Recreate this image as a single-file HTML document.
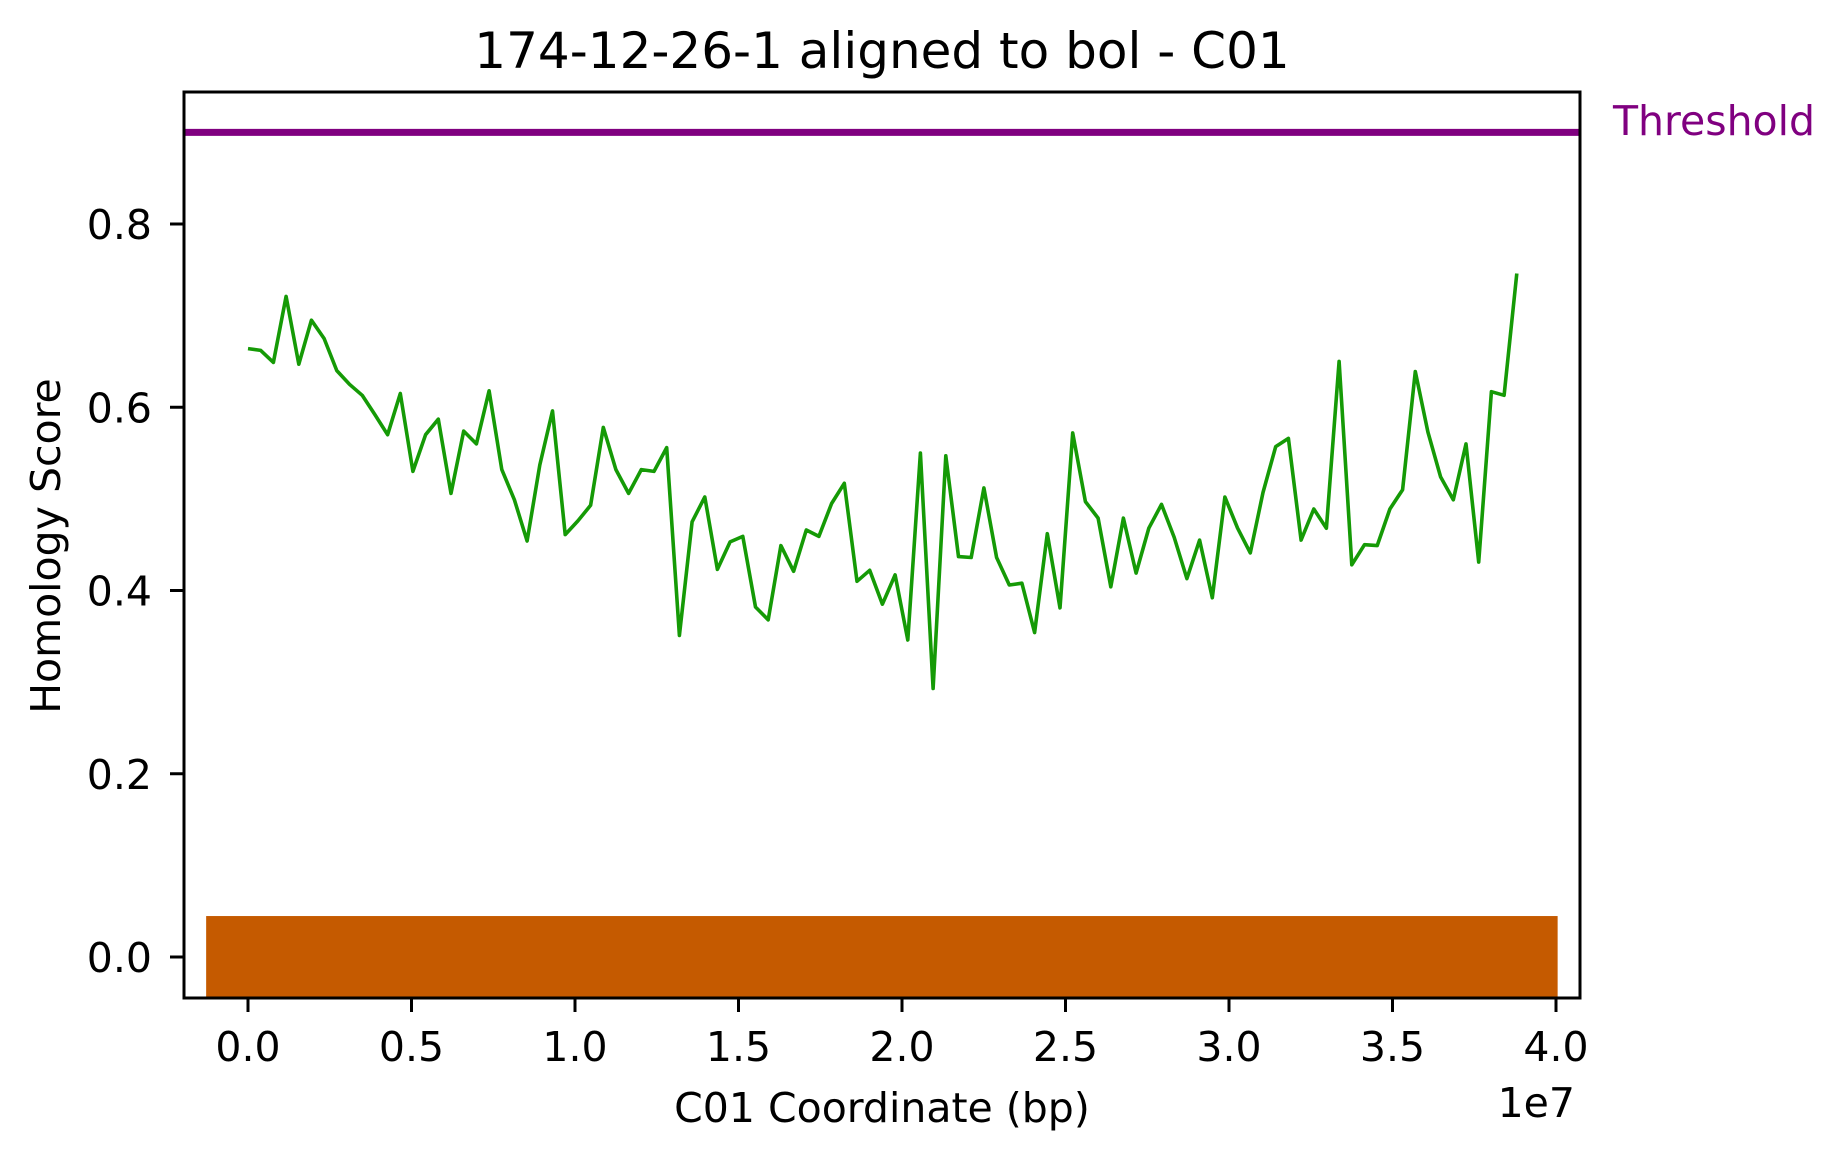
<!DOCTYPE html>
<html><head><meta charset="utf-8"><style>
html,body{margin:0;padding:0;background:#fff;}
svg{display:block;font-family:"DejaVu Sans","Liberation Sans",sans-serif;}
</style></head><body>
<svg id="chart" width="1847" height="1158" viewBox="0 0 1847 1158">
<rect x="0" y="0" width="1847" height="1158" fill="#fff"/>
<text x="882" y="68" font-size="50" text-anchor="middle" fill="#000">174-12-26-1 aligned to bol - C01</text>
<g id="plot"></g>
<text x="882" y="1122" font-size="41" text-anchor="middle" fill="#000">C01 Coordinate (bp)</text>
<text x="1575" y="1117" font-size="41" text-anchor="end" fill="#000">1e7</text>
<text transform="translate(60,546) rotate(-90)" font-size="41" text-anchor="middle" fill="#000">Homology Score</text>
<text x="1613" y="135" font-size="41" fill="#800080">Threshold</text>
</svg>
<script>
const scores = [0.664,0.662,0.649,0.721,0.647,0.695,0.675,0.640,0.625,0.613,0.592,0.570,0.615,0.530,0.570,0.587,0.506,0.574,0.560,0.618,0.532,0.499,0.454,0.537,0.596,0.461,0.476,0.493,0.578,0.532,0.506,0.532,0.530,0.556,0.351,0.475,0.502,0.423,0.453,0.459,0.382,0.368,0.449,0.421,0.466,0.459,0.495,0.517,0.410,0.422,0.385,0.417,0.346,0.550,0.293,0.547,0.437,0.436,0.512,0.436,0.406,0.408,0.354,0.462,0.381,0.572,0.497,0.479,0.404,0.479,0.419,0.468,0.494,0.458,0.413,0.455,0.392,0.502,0.468,0.441,0.507,0.557,0.566,0.455,0.489,0.468,0.650,0.428,0.450,0.449,0.489,0.510,0.639,0.573,0.524,0.499,0.560,0.431,0.617,0.613,0.746];
const binStart = 0;
const binSize = 388000;
const xTicks = [0,0.5,1.0,1.5,2.0,2.5,3.0,3.5,4.0];
const xTickLabels = ["0.0","0.5","1.0","1.5","2.0","2.5","3.0","3.5","4.0"];
const yTicks = [0.0,0.2,0.4,0.6,0.8];
const yTickLabels = ["0.0","0.2","0.4","0.6","0.8"];
const threshold = [0.9];
const blockStart = [-1280000];
const blockEnd = [40050000];
const blockHalfHeight = [0.0447];

const NS="http://www.w3.org/2000/svg";
const L=184,R=1580,T=92,B=998;
const xs=v=>248+(v/1e7)*327;
const ys=v=>957-v*916.25;
const g=document.getElementById('plot');
function mk(tag,attrs){const e=document.createElementNS(NS,tag);for(const k in attrs)e.setAttribute(k,attrs[k]);g.appendChild(e);return e;}

const bar=mk('rect',{x:xs(blockStart[0]),y:ys(blockHalfHeight[0]),width:xs(blockEnd[0])-xs(blockStart[0]),height:ys(-blockHalfHeight[0])-ys(blockHalfHeight[0]),fill:'#c55a00'});



const th=mk('line',{x1:L,x2:R,y1:ys(threshold[0]),y2:ys(threshold[0]),stroke:'#800080','stroke-width':7});



const pts=scores.map((s,i)=>xs(binStart+i*binSize).toFixed(1)+','+ys(s).toFixed(1)).join(' ');
const line=mk('polyline',{points:pts,fill:'none',stroke:'#159a06','stroke-width':3.6,'stroke-linejoin':'round'});



const frame=mk('rect',{x:L,y:T,width:R-L,height:B-T,fill:'none',stroke:'#000','stroke-width':3});



xTicks.forEach((t,i)=>{
  const x=xs(t*1e7);
  const tk=mk('line',{x1:x,x2:x,y1:B,y2:B+14,stroke:'#000','stroke-width':3});
  
  
  const lb=mk('text',{x:x,y:1061,'font-size':41,'text-anchor':'middle',fill:'#000'});
  lb.textContent=xTickLabels[i];
  
  
});
yTicks.forEach((t,i)=>{
  const y=ys(t);
  const tk=mk('line',{x1:L-14,x2:L,y1:y,y2:y,stroke:'#000','stroke-width':3});
  
  
  const lb=mk('text',{x:152,y:y+15,'font-size':41,'text-anchor':'end',fill:'#000'});
  lb.textContent=yTickLabels[i];
  
  
});
</script>
</body></html>
